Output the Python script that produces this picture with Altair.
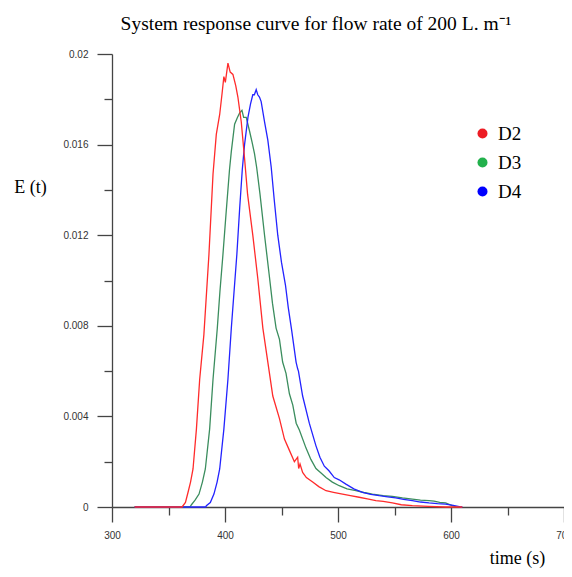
import altair as alt
import pandas as pd

# ---- data ----
d2_t = [320, 362, 365, 367.3, 369.5, 371.7, 374.7, 377.6, 381.3, 385.8, 389.4, 392.3, 395.3, 397.5, 399,
        400.3, 402.6, 404.6, 407, 409.5, 411.4, 414.4, 417.3, 420, 424.6, 429, 433.5, 437.9, 442.3, 448.2,
        452.6, 457, 461.4, 464.3, 465.2, 466.4, 468.7, 472, 477.6, 483, 489.4, 496, 504, 511, 518.7, 526,
        533.5, 540, 548.1, 556, 565.8, 580, 595, 610]
d2_e = [0, 0, 0.0002, 0.00065, 0.0011, 0.00168, 0.00344, 0.00564, 0.0076, 0.01116, 0.0147, 0.01645, 0.01733,
        0.0183, 0.0190, 0.01875, 0.0196, 0.0192, 0.0191, 0.0186, 0.0181, 0.0170, 0.0154, 0.0138, 0.0120,
        0.0101, 0.0079, 0.0064, 0.0049, 0.0039, 0.0030, 0.0025, 0.0020, 0.0022, 0.0017, 0.0019, 0.00153,
        0.0013, 0.0011, 0.0009, 0.00072, 0.00065, 0.00057, 0.0005, 0.00043, 0.00036, 0.00028, 0.00025,
        0.00018, 0.0001, 0.00006, 0.00003, 0, 0]

d3_t = [320, 369, 370.3, 373.5, 377, 380, 382.6, 386.4, 389.4, 393.2, 395.5, 398.2, 401, 404, 405.6, 408.5,
        411, 413, 415, 416.5, 418.8, 421.7, 424, 426.1, 428, 431, 435, 439, 442, 445.2, 448.2, 451, 454,
        457, 460, 463, 465.8, 471.7, 476, 480.5, 485, 489.4, 495, 501.1, 508, 515.8, 523, 530.5, 540, 548.1,
        557, 565.8, 573, 580.5, 585, 590, 595.2, 601, 605]
d3_e = [0, 0, 0.0001, 0.0003, 0.00057, 0.0011, 0.00168, 0.00344, 0.00564, 0.0079, 0.0095, 0.01116, 0.0130,
        0.0149, 0.0157, 0.0169, 0.0172, 0.0174, 0.01751, 0.0172, 0.0172, 0.0166, 0.0161, 0.0156, 0.0150,
        0.0138, 0.0120, 0.0103, 0.0090, 0.0079, 0.0074, 0.0064, 0.0059, 0.0050, 0.0045, 0.0037, 0.0034,
        0.0026, 0.0021, 0.0017, 0.0015, 0.0013, 0.0011, 0.00094, 0.0008, 0.00072, 0.00064, 0.00057, 0.0005,
        0.00047, 0.0004, 0.00035, 0.0003, 0.00028, 0.00026, 0.0002, 0.00018, 0.00006, 0]

d4_t = [320, 383, 383.5, 387, 390.2, 393, 395.3, 399, 402.6, 405.6, 408, 410.5, 413, 415.3, 417.3, 420.3,
        422.6, 424.6, 426, 427.6, 429, 430.5, 432, 435, 437.9, 440.9, 443.5, 446.7, 450, 453.5, 456, 459,
        462.9, 464.3, 465, 468.7, 474.6, 480.5, 484, 487.9, 492, 496.7, 501, 507, 514, 521.7, 529, 536.4,
        544, 551.1, 558, 565.8, 573, 580.5, 588, 595.2, 602, 608.4, 610]
d4_e = [0, 0, 0.00006, 0.0002, 0.00057, 0.0011, 0.00168, 0.00344, 0.00564, 0.0079, 0.0095, 0.01116, 0.0132,
        0.0149, 0.0160, 0.0172, 0.0178, 0.0182, 0.0182, 0.01843, 0.0182, 0.0181, 0.0179, 0.0170, 0.0162,
        0.0150, 0.0136, 0.0120, 0.0108, 0.0098, 0.0088, 0.0078, 0.0064, 0.0061, 0.0060, 0.0049, 0.0037,
        0.0027, 0.0022, 0.0018, 0.0016, 0.0013, 0.0012, 0.00101, 0.0008, 0.00065, 0.00056, 0.0005, 0.00045,
        0.0004, 0.00034, 0.00028, 0.00022, 0.00018, 0.00015, 0.00013, 0.00007, 0.00001, 0]

series_names = ["D2", "D3", "D4"]
line_colors = {"D2": "#ff2b2b", "D3": "#3b8d5e", "D4": "#2323ff"}
legend_colors = ["#ed1c24", "#22b14c", "#0000ff"]

x_ticks = [300, 350, 400, 450, 500, 550, 600, 650, 700]
y_ticks = [0, 0.002, 0.004, 0.006, 0.008, 0.01, 0.012, 0.014, 0.016, 0.018, 0.02]

rows = []
for name, ts, es in [("D3", d3_t, d3_e), ("D4", d4_t, d4_e), ("D2", d2_t, d2_e)]:
    for t, e in zip(ts, es):
        rows.append({"t": t, "E": e, "series": name})
df = pd.DataFrame(rows)

AXIS_COLOR = "#444444"

x_axis = alt.Axis(
    values=x_ticks, labelExpr="datum.value % 100 == 0 ? datum.label : ''",
    labelOverlap=False, labelFlush=False, grid=False,
    tickSize=15, tickWidth=1.3, tickColor=AXIS_COLOR,
    tickDash={"condition": {"test": "datum.value % 100 != 0", "value": [8, 40]}, "value": [15, 0]},
    domainColor=AXIS_COLOR, domainWidth=1.3,
    labelFont="Liberation Sans", labelFontSize=10, labelColor="#333333", labelPadding=8,
    title="time (s)", titleFont="Liberation Serif", titleFontSize=18, titleFontWeight="normal",
    titleColor="#000000", titleX=405, titleY=51, titleAlign="center", titleBaseline="middle",
)
y_axis = alt.Axis(
    values=y_ticks, labelExpr="round(datum.value * 1000) % 4 == 0 ? format(datum.value, '~g') : ''",
    labelOverlap=False, labelFlush=False, grid=False,
    tickSize=15, tickWidth=1.3, tickColor=AXIS_COLOR,
    tickDash={"condition": {"test": "round(datum.value * 1000) % 4 != 0", "value": [8, 40]}, "value": [15, 0]},
    domainColor=AXIS_COLOR, domainWidth=1.3,
    labelFont="Liberation Sans", labelFontSize=10, labelColor="#333333", labelPadding=9,
    title="E (t)", titleFont="Liberation Serif", titleFontSize=18, titleFontWeight="normal",
    titleColor="#000000", titleAngle=0, titleX=-82, titleY=133, titleAlign="center", titleBaseline="middle",
)

x_enc = alt.X("t:Q", scale=alt.Scale(domain=[300, 700], nice=False, zero=False), axis=x_axis)
y_enc = alt.Y("E:Q", scale=alt.Scale(domain=[0, 0.02], nice=False, zero=False), axis=y_axis)

base = alt.Chart(df)
layers = []
for name in ["D3", "D4", "D2"]:
    layers.append(
        base.transform_filter(f"datum.series == '{name}'")
        .mark_line(color=line_colors[name], strokeWidth=1.3)
        .encode(x=x_enc, y=y_enc)
    )

legend_layer = (
    base.transform_filter("datum.t < 0")
    .mark_point(filled=True, opacity=1)
    .encode(
        x=alt.X("t:Q"), y=alt.Y("E:Q"),
        color=alt.Color(
            "series:N",
            scale=alt.Scale(domain=series_names, range=legend_colors),
            legend=alt.Legend(
                title=None, orient="none", legendX=361, legendY=70, symbolType="circle",
                symbolSize=100, symbolStrokeWidth=0, labelFont="Liberation Serif", labelFontSize=19,
                labelColor="#000000", labelOffset=6, rowPadding=9, padding=0,
            ),
        ),
    )
)

chart = (
    alt.layer(*layers, legend_layer)
    .properties(
        width=452, height=453,
        autosize=alt.AutoSizeParams(type="none"),
        padding={"left": 104, "top": 46, "right": 0, "bottom": 62},
        title=alt.TitleParams(
            "System response curve for flow rate of 200 L. m⁻¹", font="Liberation Serif", fontSize=19.5,
            fontWeight="normal", color="#000000", anchor="middle", dx=-22, offset=15,
        ),
        background="white",
    )
    .configure_view(stroke=None)
)

chart.save("out.html", embed_options={"renderer": "svg", "actions": False})
